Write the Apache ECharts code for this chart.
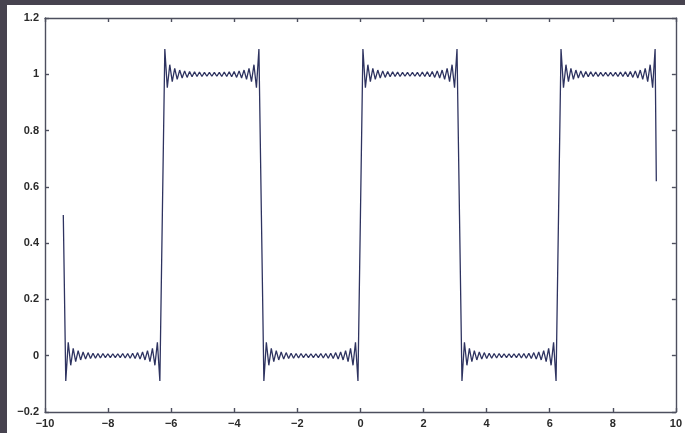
<!DOCTYPE html>
<html>
<head>
<meta charset="utf-8">
<script src="https://cdn.jsdelivr.net/npm/echarts@6/dist/echarts.min.js"></script>
<style>
  html, body { margin: 0; padding: 0; background: #47434f; }
  #panel { position: absolute; left: 7px; top: 5px; width: 678px; height: 428px; background: #ffffff; }
  #chart { position: absolute; left: 0; top: 0; width: 685px; height: 433px; }
</style>
</head>
<body>
<div id="panel"></div>
<div id="chart"></div>
<script>
// Values
const jumpX = [-9.42, -6.28, -3.14, 0, 3.14, 6.28, 9.42];   // positions of the jumps
const levels = [0, 1, 0, 1, 0, 1];                            // level of each plateau
// deviation of successive ripple extremes from the plateau level, from the edge toward the middle
const ripple = [0.09, -0.048, 0.034, -0.026, 0.021, -0.018, 0.015, -0.013, 0.012, -0.011,
                0.010, -0.009, 0.009, -0.008, 0.008, -0.008, 0.007, -0.007, 0.007, -0.007];
const startPoint = [-9.42, 0.5];
const endPoint = [9.38, 0.62];
const xTicks = [-10, -8, -6, -4, -2, 0, 2, 4, 6, 8, 10];
const yTicks = [-0.2, 0, 0.2, 0.4, 0.6, 0.8, 1, 1.2];

// Build the point table from the read values
const n = ripple.length;            // extremes on each side of plateau middle
const points = [startPoint];
for (let i = 0; i < levels.length; i++) {
  const a = jumpX[i], b = jumpX[i + 1];
  const step = (b - a) / (2 * n);
  const dir = levels[i] === 1 ? 1 : -1;
  for (let k = 1; k < 2 * n; k++) {
    const idx = Math.min(k, 2 * n - k) - 1;
    points.push([a + k * step, levels[i] + dir * ripple[idx]]);
  }
  if (i < levels.length - 1) points.push([b, 0.5]);
}
points.push(endPoint);

const fmt = v => (Math.round(v * 10) / 10).toString().replace('-', '\u2212');
const labelStyle = { color: '#2a2a2a', fontSize: 11, fontFamily: 'Liberation Sans, Arial, sans-serif', fontWeight: 'bold', formatter: fmt };
const lineStyle = { color: '#4d4f5e', width: 1.4 };

const chart = echarts.init(document.getElementById('chart'), null, { renderer: 'canvas' });
chart.setOption({
  backgroundColor: 'transparent',
  animation: false,
  grid: { left: 45, right: 7, top: 18, bottom: 21, containLabel: false },
  xAxis: [
    { type: 'value', min: -10, max: 10, interval: 2, position: 'bottom',
      axisLine: { onZero: false, lineStyle }, axisTick: { inside: true, length: 4, lineStyle },
      axisLabel: Object.assign({ margin: 6 }, labelStyle), splitLine: { show: false } },
    { type: 'value', min: -10, max: 10, interval: 2, position: 'top',
      axisLine: { onZero: false, lineStyle }, axisTick: { inside: true, length: 4, lineStyle },
      axisLabel: { show: false }, splitLine: { show: false } }
  ],
  yAxis: [
    { type: 'value', min: -0.2, max: 1.2, interval: 0.2, position: 'left',
      axisLine: { onZero: false, show: true, lineStyle }, axisTick: { show: true, inside: true, length: 4, lineStyle },
      axisLabel: Object.assign({ margin: 6 }, labelStyle), splitLine: { show: false } },
    { type: 'value', min: -0.2, max: 1.2, interval: 0.2, position: 'right',
      axisLine: { onZero: false, show: true, lineStyle }, axisTick: { show: true, inside: true, length: 4, lineStyle },
      axisLabel: { show: false }, splitLine: { show: false } }
  ],
  series: [{
    type: 'line',
    data: points,
    showSymbol: false,
    symbol: 'none',
    lineStyle: { color: '#2e3360', width: 1.3 },
    clip: true
  }]
});
</script>
</body>
</html>
